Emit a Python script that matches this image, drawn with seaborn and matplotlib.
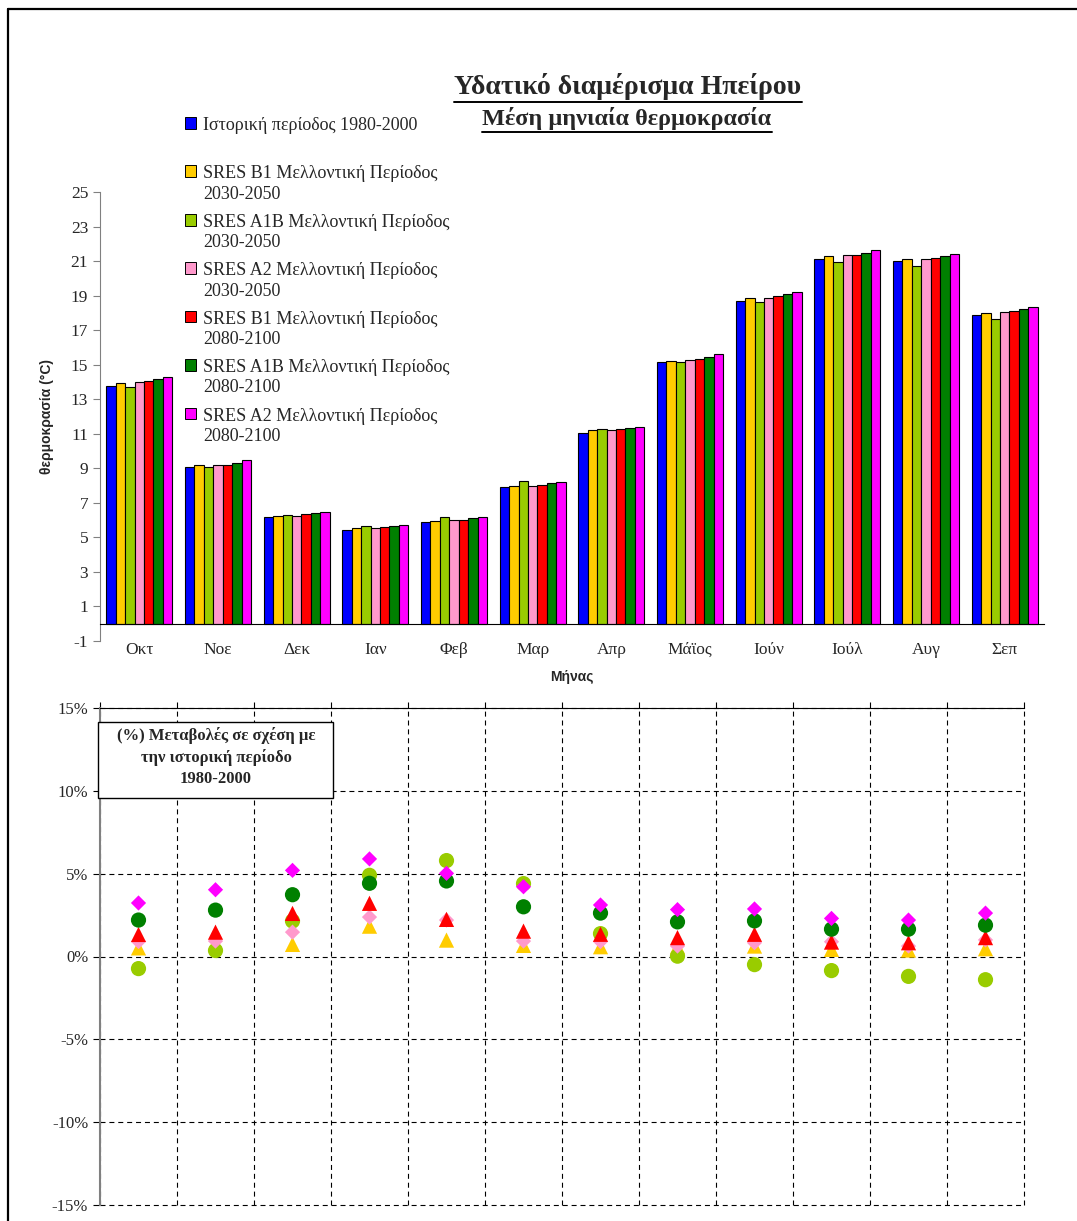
import matplotlib
matplotlib.use("Agg")
import matplotlib.pyplot as plt
import seaborn as sns
import pandas as pd
from matplotlib.patches import Rectangle
from matplotlib.lines import Line2D
from matplotlib.legend_handler import HandlerPatch
from matplotlib.ticker import FuncFormatter, FixedLocator

# Months (hydrological year Oct - Sep)
months = ["Οκτ", "Νοε", "Δεκ", "Ιαν", "Φεβ", "Μαρ", "Απρ", "Μάϊος", "Ιούν", "Ιούλ", "Αυγ", "Σεπ"]

series = [
    "Ιστορική περίοδος 1980-2000\n ",
    "SRES B1 Μελλοντική Περίοδος\n2030-2050",
    "SRES A1B Μελλοντική Περίοδος\n2030-2050",
    "SRES A2 Μελλοντική Περίοδος\n2030-2050",
    "SRES B1 Μελλοντική Περίοδος\n2080-2100",
    "SRES A1B Μελλοντική Περίοδος\n2080-2100",
    "SRES A2 Μελλοντική Περίοδος\n2080-2100",
]
colors = ["#0000FF", "#FFCC00", "#99CC00", "#FF99CC", "#FF0000", "#008000", "#FF00FF"]

# Mean monthly temperature (°C)
hist = [13.78, 9.09, 6.18, 5.41, 5.89, 7.92, 11.06, 15.15, 18.67, 21.12, 21.00, 17.86]
b1_2030 = [13.92, 9.21, 6.24, 5.52, 5.95, 7.97, 11.20, 15.23, 18.88, 21.29, 21.14, 17.97]
a1b_2030 = [13.72, 9.09, 6.29, 5.64, 6.18, 8.24, 11.26, 15.15, 18.61, 20.94, 20.69, 17.63]
a2_2030 = [13.98, 9.21, 6.24, 5.52, 6.00, 7.97, 11.20, 15.29, 18.88, 21.37, 21.14, 18.03]
b1_2080 = [14.03, 9.21, 6.35, 5.60, 6.00, 8.03, 11.26, 15.34, 18.97, 21.37, 21.19, 18.09]
a1b_2080 = [14.15, 9.32, 6.43, 5.64, 6.12, 8.15, 11.35, 15.46, 19.09, 21.48, 21.29, 18.20]
a2_2080 = [14.27, 9.46, 6.49, 5.70, 6.18, 8.21, 11.41, 15.60, 19.22, 21.66, 21.42, 18.32]

# Percent change relative to 1980-2000
pct_b1_2030 = [0.52, 0.83, 0.73, 1.83, 0.99, 0.67, 0.59, 0.60, 0.63, 0.43, 0.39, 0.47]
pct_a1b_2030 = [-0.73, 0.36, 2.14, 4.90, 5.79, 4.40, 1.38, 0.02, -0.49, -0.85, -1.20, -1.40]
pct_a2_2030 = [0.90, 0.93, 1.47, 2.38, 2.20, 0.93, 0.90, 0.63, 0.83, 0.89, 0.63, 1.00]
pct_b1_2080 = [1.33, 1.47, 2.60, 3.21, 2.24, 1.53, 1.34, 1.14, 1.34, 0.87, 0.83, 1.14]
pct_a1b_2080 = [2.20, 2.80, 3.73, 4.42, 4.56, 3.00, 2.62, 2.09, 2.15, 1.65, 1.65, 1.89]
pct_a2_2080 = [3.23, 4.03, 5.20, 5.89, 5.02, 4.21, 3.11, 2.83, 2.87, 2.30, 2.20, 2.62]

temps = [hist, b1_2030, a1b_2030, a2_2030, b1_2080, a1b_2080, a2_2080]
pcts = [pct_b1_2030, pct_a1b_2030, pct_a2_2030, pct_b1_2080, pct_a1b_2080, pct_a2_2080]
pct_markers = ["^", "o", (4, 0, 0), "^", "o", (4, 0, 0)]

df_bar = pd.DataFrame([
    {"month": m, "temp": v, "series": s}
    for s, vals in zip(series, temps) for m, v in zip(months, vals)
])
df_pct = pd.DataFrame([
    {"month": m, "pct": v, "series": s}
    for s, vals in zip(series[1:], pcts) for m, v in zip(months, vals)
])

sns.set_style("white")
plt.rcParams["axes.unicode_minus"] = False
plt.rcParams["font.family"] = ["Liberation Serif", "DejaVu Serif"]

W, H = 1077, 1221
fig = plt.figure(figsize=(W / 100, H / 100), dpi=100)

# ---------------- bar chart ----------------
ax1 = fig.add_axes([100 / W, 1 - 641 / H, 944 / W, 449 / H])
sns.barplot(data=df_bar, x="month", y="temp", hue="series", order=months,
            hue_order=series, palette=dict(zip(series, colors)), saturation=1,
            width=0.84, gap=0, edgecolor="black", linewidth=0.8, ax=ax1)

ax1.set_ylim(-1, 25)
ax1.set_xlim(-0.5, 11.5)
ax1.set_yticks(range(-1, 26, 2))
ax1.spines["top"].set_visible(False)
ax1.spines["right"].set_visible(False)
ax1.spines["left"].set_color("#808080")
ax1.spines["bottom"].set_position(("data", 0))
ax1.spines["bottom"].set_color("black")
ax1.xaxis.set_major_locator(FixedLocator(range(12)))
ax1.xaxis.set_minor_locator(FixedLocator([i - 0.5 for i in range(13)]))
ax1.tick_params(axis="x", which="major", length=0, pad=13, labelsize=12.5)
ax1.tick_params(axis="x", which="minor", length=6, direction="out", color="#808080")
ax1.tick_params(axis="y", length=5, direction="out", color="#808080", labelsize=12.5, left=True)
ax1.set_xlabel("Μήνας", family="Liberation Sans", fontweight="bold", fontsize=10, labelpad=9)
ax1.set_ylabel("θερμοκρασία (°C)", family="Liberation Sans", fontweight="bold", fontsize=10, labelpad=12)


class TopPatch(HandlerPatch):
    # keep the square next to the first line of a two-line label
    def create_artists(self, legend, orig_handle, xdescent, ydescent, width, height, fontsize, trans):
        p = Rectangle((-xdescent, -ydescent + 0.72 * fontsize), width, height,
                      facecolor=orig_handle.get_facecolor(), edgecolor="black", lw=0.7,
                      transform=trans)
        return [p]


handles, labels = ax1.get_legend_handles_labels()
ax1.get_legend().remove()
leg = fig.legend(handles, labels, loc="upper left", bbox_to_anchor=(185 / W, 1 - 117 / H),
                 frameon=False, fontsize=13, handlelength=0.62, handleheight=0.62,
                 handletextpad=0.4, labelspacing=0.62, borderaxespad=0, borderpad=0,
                 handler_map={Rectangle: TopPatch()})
for t in leg.get_texts():
    t.set_linespacing(1.25)

# titles
t1 = fig.text(628 / W, 1 - 87 / H, "Υδατικό διαμέρισμα Ηπείρου", ha="center", va="center",
              fontsize=20, fontweight="bold")
t2 = fig.text(627 / W, 1 - 119 / H, "Μέση μηνιαία θερμοκρασία", ha="center", va="center",
              fontsize=17.5, fontweight="bold")

# ---------------- percent change chart ----------------
ax2 = fig.add_axes([100 / W, 1 - 1205 / H, 924 / W, 497 / H])
sns.scatterplot(data=df_pct, x="month", y="pct", hue="series", style="series",
                palette=dict(zip(series[1:], colors[1:])),
                markers=dict(zip(series[1:], pct_markers)),
                s=120, linewidth=0, legend=False, ax=ax2, zorder=3)
ax2.set_xlim(-0.5, 11.5)
ax2.set_ylim(-15, 15)
ax2.set_yticks(range(-15, 16, 5))
ax2.yaxis.set_major_formatter(FuncFormatter(lambda v, p: f"{v:.0f}%"))
ax2.xaxis.set_major_locator(FixedLocator([i - 0.5 for i in range(13)]))
ax2.xaxis.tick_top()
ax2.tick_params(axis="x", length=4, direction="out", labeltop=False, color="black")
ax2.tick_params(axis="y", length=5, direction="out", color="black", labelsize=12, left=True)
ax2.set_xlabel("")
ax2.set_ylabel("")
ax2.set_axisbelow(True)
ax2.grid(True, color="black", linestyle=(0, (4.5, 3.5)), linewidth=0.8)
for gl in ax2.get_ygridlines() + ax2.get_xgridlines():
    gl.set_clip_on(False)
ax2.spines["right"].set_visible(False)
ax2.spines["bottom"].set_visible(False)
ax2.spines["top"].set_color("black")
ax2.spines["left"].set_color("#808080")
ax2.spines["left"].set_linewidth(1.5)

# note box
fig.patches.append(Rectangle((98 / W, 1 - 798 / H), 235 / W, 76 / H, transform=fig.transFigure,
                             facecolor="white", edgecolor="black", lw=1, zorder=5))
fig.text(216 / W, 1 - 757 / H, "(%) Μεταβολές σε σχέση με\nτην ιστορική περίοδο\n1980-2000",
         ha="center", va="center", fontsize=12, fontweight="bold", linespacing=1.38, zorder=6)

# outer frame of the sheet
fig.lines.append(Line2D([8 / W, 8 / W], [0, 1 - 9 / H], transform=fig.transFigure, color="black", lw=1.6))
fig.lines.append(Line2D([8 / W, 1], [1 - 9 / H, 1 - 9 / H], transform=fig.transFigure, color="black", lw=1.6))

# underline the two titles
fig.canvas.draw()
r = fig.canvas.get_renderer()
for t in (t1, t2):
    bb = t.get_window_extent(r)
    y = (bb.y0 - 1) / H
    fig.lines.append(Line2D([bb.x0 / W, bb.x1 / W], [y, y], transform=fig.transFigure,
                            color="black", lw=1.4))

fig.savefig("out.png", dpi=100)
print("saved out.png")
